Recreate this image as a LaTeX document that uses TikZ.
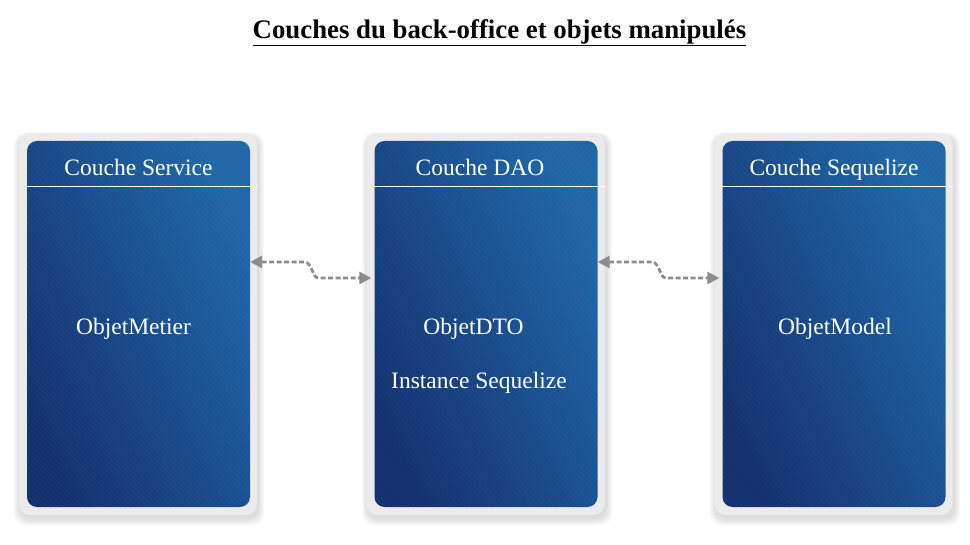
\documentclass[tikz,border=0pt]{standalone}
\usepackage{fontspec}
\setmainfont{Liberation Serif}
\usetikzlibrary{calc,arrows.meta}
\definecolor{framegray}{HTML}{EBEBEB}
\definecolor{blueLight}{HTML}{1F67A9}
\definecolor{blueDark}{HTML}{14316F}
\definecolor{conngray}{HTML}{8C8C8C}
\tikzset{
  frame/.style={fill=framegray, rounded corners=11pt, minimum width=238pt, minimum height=382pt, inner sep=0pt, draw=none},
  bluebox/.style={rounded corners=10pt, minimum width=223pt, minimum height=366pt, inner sep=0pt, draw=none,
    shading=axis, left color=blueLight, right color=blueDark, shading angle=-65,
    path picture={\foreach \k in {-420,-415,...,230}
      \draw[white,opacity=0.05,line width=0.6pt] ($(path picture bounding box.north west)+(\k,0)$) -- ++(420,420);}},
  headtxt/.style={text=white, font=\fontsize{23.5}{27}\selectfont, inner sep=0pt, anchor=base},
  bodytxt/.style={text=white, font=\fontsize{23.5}{27}\selectfont, inner sep=0pt, anchor=base},
  conn/.style={conngray, line width=2.8pt, dash pattern=on 5pt off 2.5pt,
    {Triangle[length=12pt,width=12pt]}-{Triangle[length=12pt,width=12pt]}},
}
\begin{document}
\begin{tikzpicture}[x=1pt,y=-1pt]
\useasboundingbox (0,0) rectangle (970,545);
% shadows
\foreach \cx in {138,486,834}{
  \foreach \i in {1,...,7}{
    \fill[black,opacity=0.02,rounded corners=12pt] (\cx-119-\i*0.9+1,133-\i*0.5+3) rectangle (\cx+119+\i*0.9+1,515+\i*1.1+3);
  }
}
\node[font=\bfseries\fontsize{26.8}{30}\selectfont, inner sep=0pt] (title) at (499.5,33) {\underline{Couches du back-office et objets manipulés}};
% frames
\node[frame] (f1) at (138,324) {};
\node[frame] (f2) at (485.5,324) {};
\node[frame] (f3) at (833.5,324) {};
% blue boxes
\node[bluebox] (b1) at (138.5,324) {};
\node[bluebox] (b2) at (486,324) {};
\node[bluebox] (b3) at (834,324) {};
% header separators
\draw[white,line width=1pt] (b1.west |- {(0,187)}) -- (f1.east |- {(0,187)});
\draw[white,line width=1pt] (b2.west |- {(0,187)}) -- (f2.east |- {(0,187)});
\draw[white,line width=1pt] (b3.west |- {(0,187)}) -- (f3.east |- {(0,187)});
% header texts
\node[headtxt] (h1) at (138.5,176) {Couche Service};
\node[headtxt] (h2) at (480,176) {Couche DAO};
\node[headtxt] (h3) at (834,176) {Couche Sequelize};
% body texts
\node[bodytxt] (o1) at (133.5,335) {ObjetMetier};
\node[bodytxt] (o2) at (473.5,335) {ObjetDTO};
\node[bodytxt] (o3) at (479,389) {Instance Sequelize};
\node[bodytxt] (o4) at (835,335) {ObjetModel};
% connectors
\coordinate (c1s) at (b1.east |- {(0,262)});
\coordinate (c1e) at ($(f2.west |- {(0,278)})+(5,0)$);
\coordinate (c2s) at (b2.east |- {(0,262)});
\coordinate (c2e) at ($(f3.west |- {(0,278)})+(5,0)$);
\draw[conn] (c1s) -- ++(54,0) .. controls +(8,0) and +(-6,0) .. ($(c1s)+(68,16)$) -- (c1e);
\draw[conn] (c2s) -- ++(54,0) .. controls +(8,0) and +(-6,0) .. ($(c2s)+(68,16)$) -- (c2e);
\end{tikzpicture}
\end{document}
